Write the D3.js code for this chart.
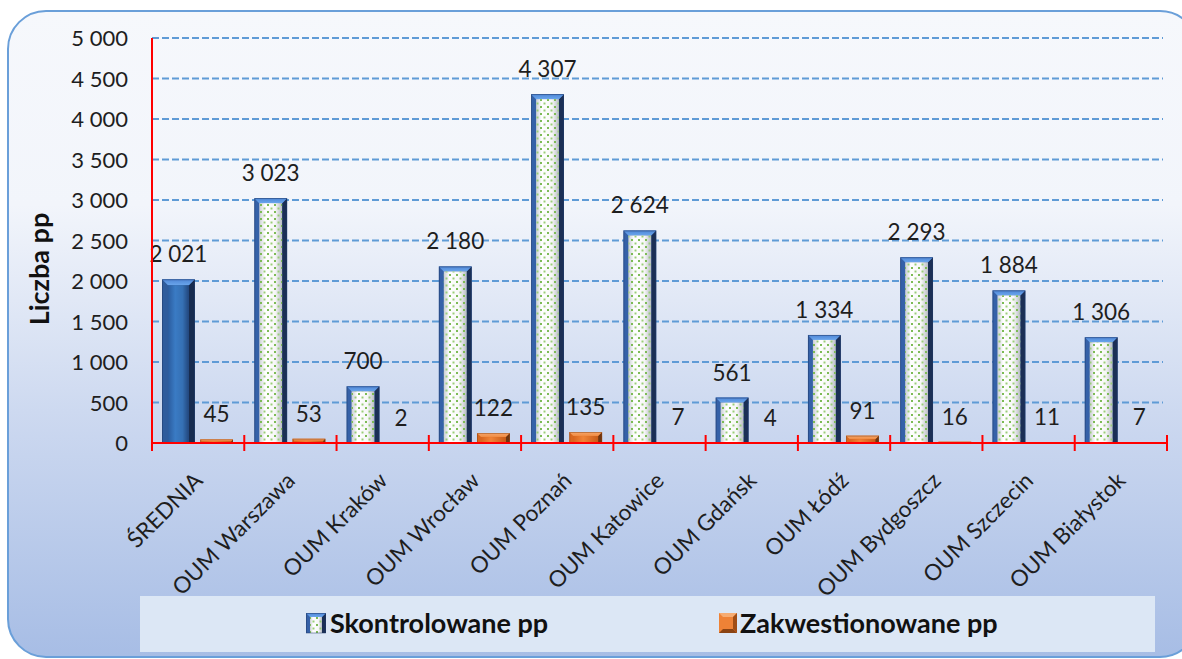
<!DOCTYPE html>
<html>
<head>
<meta charset="utf-8">
<script src="https://cdn.jsdelivr.net/npm/d3@7"></script>
<style>
  html, body { margin: 0; padding: 0; background: #ffffff; }
  svg { display: block; }
  text { font-family: Lato, "Noto Sans", "DejaVu Sans", sans-serif; }
</style>
</head>
<body>
<svg id="chart" width="1182" height="659"></svg>
<script>
// ---- data ----
const categories = ["ŚREDNIA", "OUM Warszawa", "OUM Kraków", "OUM Wrocław", "OUM Poznań",
  "OUM Katowice", "OUM Gdańsk", "OUM Łódź", "OUM Bydgoszcz", "OUM Szczecin", "OUM Białystok"];
const seriesNames = ["Skontrolowane pp", "Zakwestionowane pp"];
const skontrolowane = [2021, 3023, 700, 2180, 4307, 2624, 561, 1334, 2293, 1884, 1306];
const zakwestionowane = [45, 53, 2, 122, 135, 7, 4, 91, 16, 11, 7];
const yTicks = [0, 500, 1000, 1500, 2000, 2500, 3000, 3500, 4000, 4500, 5000];
const yTitle = "Liczba pp";

// ---- setup ----
const svg = d3.select("#chart");
const fmt = d3.formatLocale({ decimal: ",", thousands: " ", grouping: [3], currency: ["", ""] }).format(",d");

const defs = svg.append("defs");
const bg = defs.append("linearGradient").attr("id", "bgGrad").attr("x1", 0).attr("y1", 0).attr("x2", 0).attr("y2", 1);
bg.append("stop").attr("offset", "0%").attr("stop-color", "#f6f8fc");
bg.append("stop").attr("offset", "30%").attr("stop-color", "#f2f5fb");
bg.append("stop").attr("offset", "62%").attr("stop-color", "#cdd9f0");
bg.append("stop").attr("offset", "100%").attr("stop-color", "#a7bde5");

function hGrad(id, stops) {
  const g = defs.append("linearGradient").attr("id", id).attr("x1", 0).attr("y1", 0).attr("x2", 1).attr("y2", 0);
  stops.forEach(s => g.append("stop").attr("offset", s[0]).attr("stop-color", s[1]));
}
function vGrad(id, stops) {
  const g = defs.append("linearGradient").attr("id", id).attr("x1", 0).attr("y1", 0).attr("x2", 0).attr("y2", 1);
  stops.forEach(s => g.append("stop").attr("offset", s[0]).attr("stop-color", s[1]));
}
hGrad("faceWhite", [["0%", "#c9cdd3"], ["25%", "#ffffff"], ["70%", "#f7f7f7"], ["100%", "#b8bcc4"]]);
hGrad("faceBlue", [["0%", "#2b5c9e"], ["35%", "#3a7bc4"], ["70%", "#3570b4"], ["100%", "#22467c"]]);
hGrad("faceOrange", [["0%", "#d8651e"], ["40%", "#f08437"], ["100%", "#c85b18"]]);
vGrad("topBlue", [["0%", "#4f86d6"], ["100%", "#6aa6ec"]]);
vGrad("topOrange", [["0%", "#f6a76c"], ["100%", "#f08a40"]]);

const pat = defs.append("pattern").attr("id", "dots").attr("patternUnits", "userSpaceOnUse")
  .attr("width", 7).attr("height", 7);
pat.append("rect").attr("x", 1).attr("y", 1).attr("width", 2).attr("height", 2).attr("fill", "#7dbb55");
pat.append("rect").attr("x", 4.5).attr("y", 4.5).attr("width", 2).attr("height", 2).attr("fill", "#9acd78");

// ---- background frame ----
svg.append("rect").attr("x", 8).attr("y", 11).attr("width", 1190).attr("height", 646)
  .attr("rx", 38).attr("ry", 38)
  .attr("fill", "url(#bgGrad)").attr("stroke", "#6a9fd9").attr("stroke-width", 2);

// ---- legend box (drawn early so labels stay on top) ----
svg.append("rect").attr("x", 140).attr("y", 596).attr("width", 1015).attr("height", 56).attr("fill", "#dce7f5");

// ---- scales ----
const x0 = d3.scaleBand().domain(categories).range([152, 1167]).padding(0);
const x1 = d3.scaleBand().domain(seriesNames).range([10, 81]).paddingInner(0.14).paddingOuter(0);
const y = d3.scaleLinear().domain([0, 5000]).range([443, 38]);

// ---- grid ----
svg.append("g").selectAll("line").data(yTicks.filter(d => d > 0)).join("line")
  .attr("x1", 152).attr("x2", 1163)
  .attr("y1", d => y(d)).attr("y2", d => y(d))
  .attr("stroke", "#5f9bd6").attr("stroke-width", 2).attr("stroke-dasharray", "7,3");

// ---- y axis labels ----
const yAxis = d3.axisLeft(y).tickValues(yTicks).tickSize(0).tickPadding(0).tickFormat(d => fmt(d));
const yg = svg.append("g").attr("transform", "translate(128,0)").call(yAxis);
yg.select(".domain").remove();
yg.selectAll("text").attr("font-size", 22).attr("fill", "#1e1e1e").attr("dy", "0.35em")
  .style("font-family", "Lato, 'Noto Sans', sans-serif");

svg.append("text").attr("transform", "translate(49,269) rotate(-90)")
  .attr("text-anchor", "middle").attr("font-size", 27).attr("font-weight", "bold")
  .attr("fill", "#111").text(yTitle);

// ---- bars ----
function bevelBar(g, bx, by, bw, bh, style) {
  if (bh <= 0) return;
  const b = Math.min(style.b, bh * 0.5, bw / 2);
  g.append("rect").attr("x", bx).attr("y", by).attr("width", bw).attr("height", bh).attr("fill", style.left);
  g.append("path").attr("d", `M${bx + bw},${by} L${bx + bw - b},${by + b} L${bx + bw - b},${by + bh} L${bx + bw},${by + bh} Z`)
    .attr("fill", style.right);
  g.append("path").attr("d", `M${bx},${by} L${bx + bw},${by} L${bx + bw - b},${by + b} L${bx + b},${by + b} Z`)
    .attr("fill", style.top);
  g.append("rect").attr("x", bx + b).attr("y", by + b).attr("width", bw - 2 * b).attr("height", Math.max(0, bh - b))
    .attr("fill", style.face);
  if (style.pattern) {
    g.append("rect").attr("x", bx + b).attr("y", by + b).attr("width", bw - 2 * b).attr("height", Math.max(0, bh - b))
      .attr("fill", style.pattern);
  }
  g.append("rect").attr("x", bx + 0.5).attr("y", by + 0.5).attr("width", bw - 1).attr("height", bh - 0.5)
    .attr("fill", "none").attr("stroke", style.edge).attr("stroke-width", 0.8).attr("opacity", 0.6);
}

const styleDots = { b: 5, left: "#3561a8", right: "#1b2f55", top: "url(#topBlue)", face: "url(#faceWhite)", pattern: "url(#dots)", edge: "#1f3866" };
const styleBlue = { b: 6, left: "#2f5c9c", right: "#172c50", top: "url(#topBlue)", face: "url(#faceBlue)", pattern: null, edge: "#1f3866" };
const styleOrange = { b: 4, left: "#d8671f", right: "#6e3510", top: "url(#topOrange)", face: "url(#faceOrange)", pattern: null, edge: "#8a4313" };

const bars = svg.append("g");
categories.forEach((c, i) => {
  const gx = x0(c);
  const g = bars.append("g");
  const v1 = skontrolowane[i];
  bevelBar(g, gx + x1(seriesNames[0]), y(v1), x1.bandwidth(), y(0) - y(v1), i === 0 ? styleBlue : styleDots);
  const v2 = zakwestionowane[i];
  bevelBar(g, gx + x1(seriesNames[1]), y(v2), x1.bandwidth(), y(0) - y(v2), styleOrange);
});

// ---- value labels ----
const labels = svg.append("g").attr("font-size", 22.5).attr("fill", "#1e1e1e").attr("text-anchor", "middle");
categories.forEach((c, i) => {
  const gx = x0(c);
  labels.append("text").attr("x", gx + x1(seriesNames[0]) + x1.bandwidth() / 2).attr("y", y(skontrolowane[i]) - 17)
    .text(fmt(skontrolowane[i]));
  labels.append("text").attr("x", gx + x1(seriesNames[1]) + x1.bandwidth() / 2).attr("y", y(zakwestionowane[i]) - 17)
    .text(fmt(zakwestionowane[i]));
});

// ---- axes lines (red) ----
const axisG = svg.append("g").attr("stroke", "#ff0000").attr("stroke-width", 2);
axisG.append("line").attr("x1", 152).attr("x2", 152).attr("y1", y(5000)).attr("y2", y(0) + 8);
axisG.append("line").attr("x1", 152).attr("x2", 1167).attr("y1", y(0)).attr("y2", y(0));
const tickXs = categories.map(c => x0(c)).concat([x0.range()[1]]);
axisG.selectAll(".xt").data(tickXs.slice(1)).join("line").attr("class", "xt")
  .attr("x1", d => d).attr("x2", d => d).attr("y1", y(0) - 8).attr("y2", y(0) + 8);

// ---- x labels ----
const xl = svg.append("g").attr("font-size", 22.5).attr("fill", "#1e1e1e").attr("text-anchor", "end");
categories.forEach(c => {
  const cx = x0(c) + x0.bandwidth() / 2;
  xl.append("text").attr("transform", `translate(${cx + 6},${482}) rotate(-45)`).text(c);
});

// ---- legend ----
const lg = svg.append("g");
bevelBar(lg, 306, 613, 20, 20, { b: 4, left: "#3561a8", right: "#1b2f55", top: "url(#topBlue)", face: "url(#faceWhite)", pattern: "url(#dots)", edge: "#1f3866" });
lg.append("text").attr("x", 330).attr("y", 633).attr("font-size", 27).attr("font-weight", "bold").attr("fill", "#111").text(seriesNames[0]);
const s2x = 719, s2y = 613, s2 = 18;
lg.append("rect").attr("x", s2x).attr("y", s2y).attr("width", s2).attr("height", s2 + 2).attr("fill", "#ee8236");
lg.append("path").attr("d", `M${s2x},${s2y} L${s2x + s2},${s2y} L${s2x + s2 - 4},${s2y + 4} L${s2x + 4},${s2y + 4} Z`).attr("fill", "#f6ac72");
lg.append("path").attr("d", `M${s2x},${s2y + s2 + 2} L${s2x + s2},${s2y + s2 + 2} L${s2x + s2 - 4},${s2y + s2 - 2} L${s2x + 4},${s2y + s2 - 2} Z`).attr("fill", "#8a4313");
lg.append("path").attr("d", `M${s2x + s2},${s2y} L${s2x + s2 - 4},${s2y + 4} L${s2x + s2 - 4},${s2y + s2 - 2} L${s2x + s2},${s2y + s2 + 2} Z`).attr("fill", "#a14d14");
lg.append("text").attr("x", 740).attr("y", 633).attr("font-size", 27).attr("font-weight", "bold").attr("fill", "#111").text(seriesNames[1]);
</script>
</body>
</html>
